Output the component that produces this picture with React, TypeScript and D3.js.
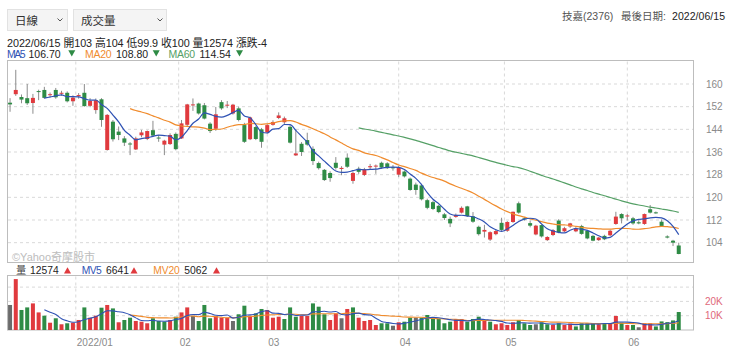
import React from 'react';
import * as d3 from 'd3';

const W = 740;
const H = 352;

// trading days shown (2021/12/15 - 2022/06/15)
const dates = [
  '2021-12-15', '2021-12-16', '2021-12-17', '2021-12-20', '2021-12-21', '2021-12-22', '2021-12-23', '2021-12-24', '2021-12-27', '2021-12-28', '2021-12-29', '2021-12-30',
  '2022-01-03', '2022-01-04', '2022-01-05', '2022-01-06', '2022-01-07', '2022-01-10', '2022-01-11', '2022-01-12', '2022-01-13', '2022-01-14', '2022-01-17', '2022-01-18', '2022-01-19', '2022-01-20', '2022-01-21', '2022-01-24', '2022-01-25', '2022-01-26',
  '2022-02-07', '2022-02-08', '2022-02-09', '2022-02-10', '2022-02-11', '2022-02-14', '2022-02-15', '2022-02-16', '2022-02-17', '2022-02-18', '2022-02-21', '2022-02-22', '2022-02-23', '2022-02-24', '2022-02-25',
  '2022-03-01', '2022-03-02', '2022-03-03', '2022-03-04', '2022-03-07', '2022-03-08', '2022-03-09', '2022-03-10', '2022-03-11', '2022-03-14', '2022-03-15', '2022-03-16', '2022-03-17', '2022-03-18', '2022-03-21', '2022-03-22', '2022-03-23', '2022-03-24', '2022-03-25', '2022-03-28', '2022-03-29', '2022-03-30', '2022-03-31',
  '2022-04-01', '2022-04-06', '2022-04-07', '2022-04-08', '2022-04-11', '2022-04-12', '2022-04-13', '2022-04-14', '2022-04-15', '2022-04-18', '2022-04-19', '2022-04-20', '2022-04-21', '2022-04-22', '2022-04-25', '2022-04-26', '2022-04-27', '2022-04-28', '2022-04-29',
  '2022-05-03', '2022-05-04', '2022-05-05', '2022-05-06', '2022-05-09', '2022-05-10', '2022-05-11', '2022-05-12', '2022-05-13', '2022-05-16', '2022-05-17', '2022-05-18', '2022-05-19', '2022-05-20', '2022-05-23', '2022-05-24', '2022-05-25', '2022-05-26', '2022-05-27', '2022-05-30', '2022-05-31',
  '2022-06-01', '2022-06-02', '2022-06-06', '2022-06-07', '2022-06-08', '2022-06-09', '2022-06-10', '2022-06-13', '2022-06-14', '2022-06-15',
];

const open = [
  153.4, 156.4, 155.4, 155.0, 153.3, 157.5, 157.9, 156.1, 157.9, 156.6,
  156.9, 153.9, 155.7, 156.9, 152.3, 150.8, 154.6, 136.7, 146.7, 143.2,
  140.8, 139.0, 136.9, 141.9, 140.6, 143.7, 141.1, 138.6, 138.8, 142.4,
  140.8, 145.6, 152.5, 153.1, 152.5, 146.0, 144.2, 153.6, 152.4, 149.6,
  151.4, 145.5, 140.5, 144.8, 144.0, 142.9, 145.6, 148.0, 146.5, 144.9,
  134.8, 138.9, 140.2, 137.1, 132.1, 129.7, 128.6, 132.2, 130.0, 134.0,
  125.8, 130.1, 127.9, 130.6, 131.0, 132.2, 132.0, 130.6, 128.0, 129.1,
  126.6, 124.5, 124.2, 119.0, 118.3, 117.0, 114.0, 112.4, 113.1, 114.6,
  116.8, 113.3, 109.6, 107.9, 105.1, 107.0, 111.0, 108.2, 111.3, 117.9,
  112.6, 110.9, 106.9, 110.2, 104.9, 106.7, 111.8, 108.0, 109.7, 108.0,
  109.9, 108.2, 106.4, 104.9, 106.4, 106.6, 110.6, 114.1, 113.4, 112.6,
  111.2, 110.6, 115.8, 114.7, 111.4, 106.2, 104.7, 103.0,
];

const high = [
  155.0, 165.0, 156.3, 160.0, 156.5, 158.0, 159.0, 157.0, 158.6, 157.6,
  157.4, 156.0, 156.8, 160.0, 155.0, 154.9, 155.0, 149.4, 147.3, 145.0,
  141.6, 139.5, 141.4, 143.8, 143.6, 147.0, 142.0, 140.3, 142.6, 142.9,
  147.3, 153.0, 154.9, 153.4, 153.3, 146.5, 151.9, 154.3, 154.0, 153.0,
  152.0, 146.3, 148.5, 145.2, 144.5, 145.8, 147.2, 150.0, 148.5, 145.5,
  144.0, 139.5, 142.8, 138.0, 132.6, 130.0, 129.2, 134.2, 131.0, 135.5,
  129.1, 130.8, 130.4, 131.8, 131.6, 132.6, 132.4, 131.4, 131.0, 129.5,
  127.0, 125.2, 124.8, 119.5, 118.8, 117.4, 114.5, 113.2, 114.3, 116.8,
  117.0, 114.8, 110.0, 110.3, 108.0, 108.8, 112.8, 111.6, 115.0, 118.5,
  113.1, 111.8, 110.3, 110.5, 106.3, 108.8, 112.3, 109.6, 111.0, 109.5,
  110.3, 108.5, 106.8, 106.0, 106.8, 108.6, 114.9, 114.4, 114.1, 113.1,
  111.9, 114.3, 117.3, 115.0, 112.2, 106.6, 105.0, 104.0,
];

const low = [
  150.2, 155.8, 153.2, 152.6, 149.5, 154.3, 154.8, 155.2, 154.8, 155.8,
  153.5, 152.3, 154.8, 152.0, 151.8, 149.5, 144.9, 136.5, 139.7, 140.2,
  138.1, 134.9, 136.7, 141.2, 140.2, 141.3, 139.6, 134.9, 138.5, 136.6,
  140.6, 145.0, 150.5, 149.2, 147.5, 142.7, 143.5, 150.9, 151.5, 149.2,
  146.8, 139.2, 140.2, 140.2, 137.5, 142.5, 145.3, 147.6, 145.8, 139.0,
  134.6, 134.6, 138.2, 131.4, 129.8, 125.8, 125.5, 129.8, 127.8, 130.4,
  124.8, 128.3, 127.5, 129.7, 128.3, 130.0, 130.0, 129.4, 127.2, 127.0,
  122.3, 120.9, 118.9, 115.8, 115.5, 114.4, 112.0, 109.5, 112.8, 114.3,
  113.1, 111.0, 106.5, 105.8, 104.6, 106.6, 108.0, 107.8, 111.0, 114.2,
  111.8, 109.4, 106.6, 105.8, 104.6, 106.3, 107.3, 107.7, 109.2, 107.7,
  106.8, 105.2, 104.5, 104.6, 104.9, 106.3, 110.3, 110.8, 111.8, 110.3,
  110.5, 110.3, 114.3, 114.2, 109.6, 105.5, 102.8, 99.9,
];

const close = [
  152.8, 157.9, 154.5, 153.2, 155.1, 157.2, 155.1, 156.4, 155.3, 156.9,
  153.9, 155.2, 156.1, 152.2, 154.0, 154.3, 147.3, 149.1, 140.5, 142.0,
  139.3, 138.7, 140.8, 142.9, 143.4, 141.8, 140.8, 140.0, 142.0, 137.0,
  146.1, 152.8, 152.8, 149.6, 147.8, 143.4, 149.3, 151.4, 152.7, 152.7,
  147.3, 139.6, 148.2, 140.6, 139.6, 145.5, 146.6, 148.9, 147.9, 139.3,
  135.5, 136.0, 138.6, 132.8, 130.3, 126.1, 126.8, 130.4, 130.4, 130.8,
  128.6, 129.0, 129.9, 131.0, 131.2, 130.5, 130.3, 130.3, 130.5, 127.4,
  122.6, 122.6, 119.3, 116.3, 115.9, 114.8, 112.7, 110.8, 113.8, 116.3,
  113.4, 111.4, 107.0, 108.5, 107.7, 108.1, 108.5, 111.3, 114.9, 114.6,
  112.3, 110.0, 110.0, 106.2, 106.0, 108.4, 107.6, 109.1, 110.8, 109.1,
  107.1, 105.5, 104.7, 105.8, 105.2, 108.2, 113.2, 112.6, 113.6, 110.8,
  110.8, 114.1, 114.6, 114.4, 109.9, 105.8, 104.0, 100.0,
];

// 成交量 (張)
const volume = [
  17500, 35600, 14000, 15800, 18600, 12300, 10000, 5100, 8200, 4000,
  4700, 5100, 7000, 15800, 8600, 10000, 15600, 17500, 15100, 5400,
  7000, 8600, 6300, 5800, 4700, 8200, 6300, 5800, 7000, 9300,
  12300, 15800, 10000, 6300, 17500, 8200, 9800, 8600, 8600, 6300,
  11000, 17000, 10000, 11600, 14700, 14000, 8600, 9300, 7700, 15800,
  9300, 9800, 9800, 18600, 16300, 11000, 7000, 11600, 8200, 14700,
  15800, 8600, 6300, 7000, 3500, 4700, 4700, 3000, 5400, 5800,
  8600, 8600, 8600, 10500, 7700, 7700, 4700, 5800, 7700, 7700,
  5800, 7700, 9300, 6300, 5800, 4000, 4700, 3500, 5400, 7000,
  4700, 3500, 4000, 5400, 4000, 3500, 4700, 3500, 4500, 2500,
  4700, 4700, 4700, 4000, 4700, 4200, 9800, 5200, 3500, 3500,
  1900, 4700, 4700, 2500, 6000, 5500, 6700, 12574,
];

const priceTicks = [104, 112, 120, 128, 136, 144, 152, 160];
const volumeGrid = [10000, 20000, 30000];
const volumeLabels = ['10K', '20K'];

const UP = '#e03a3e';
const DOWN = '#2e8b45';
const FLAT = '#6b6b6b';
const MA5C = '#2f52b4';
const MA20C = '#f08c2e';
const MA60C = '#55a066';
const GRID = '#d9d9d9';
const FONT = "'Liberation Sans', Arial, 'Noto Sans CJK TC', sans-serif";

function movingAvg(values: number[], n: number) {
  return values.map((_, i) => (i < n + 1 ? null : d3.mean(values.slice(i - n + 1, i + 1)) as number));
}

// small filled triangle, pointing down or up
function Tri({ x, y, down, fill }: { x: number; y: number; down: boolean; fill: string }) {
  const d = down
    ? `M${x},${y} L${x + 7},${y} L${x + 3.5},${y + 6.2} Z`
    : `M${x},${y + 6.2} L${x + 7},${y + 6.2} L${x + 3.5},${y} Z`;
  return <path d={d} fill={fill} />;
}

export default function App() {
  const x = d3.scalePoint<string>().domain(dates).range([7.2, 681.6]).padding(0.5);
  const step = x.step();
  const y = d3.scaleLinear().domain([104, 160]).range([242.67, 84]);
  const yv = d3.scaleLinear().domain([0, 20000]).range([330, 301.4]);

  const plot = { left: 7, right: 693, top: 60.5, bottom: 262.5 };
  const vol = { top: 275.5, bottom: 330 };

  const parse = d3.timeParse('%Y-%m-%d');
  const times = dates.map((d) => parse(d) as Date);

  // month grid: position of the 1st calendar day between trading days
  const months: { x: number; label: string }[] = [];
  for (let i = 1; i < dates.length; i++) {
    if (times[i].getMonth() !== times[i - 1].getMonth()) {
      const first = new Date(times[i].getFullYear(), times[i].getMonth(), 1);
      const t = (+first - +times[i - 1]) / (+times[i] - +times[i - 1]);
      const xp = (x(dates[i - 1]) as number) + t * step;
      const label = first.getMonth() === 0 ? d3.timeFormat('%Y/%m')(first) : d3.timeFormat('%m')(first);
      months.push({ x: xp, label });
    }
  }

  const ma5 = movingAvg(close, 5);
  const ma20 = movingAvg(close, 20);
  const ma60 = movingAvg(close, 60);
  const mv5 = movingAvg(volume, 5);
  const mv20 = movingAvg(volume, 20);

  const lineFor = (vals: (number | null)[], sc: d3.ScaleLinear<number, number>) =>
    d3
      .line<number | null>()
      .defined((d) => d != null)
      .x((_, i) => x(dates[i]) as number)
      .y((d) => sc(d as number))
      .curve(d3.curveMonotoneX)(vals) || '';

  const candleColor = (i: number) => (close[i] > open[i] ? UP : close[i] < open[i] ? DOWN : FLAT);
  const volColor = (i: number) =>
    i === 0 || close[i] === close[i - 1] ? FLAT : close[i] > close[i - 1] ? UP : DOWN;

  const bw = 4;

  return (
    <svg
      width={W}
      height={H}
      style={{ position: 'absolute', left: 0, top: 0, background: '#fff', fontFamily: FONT }}
    >
      {/* selectors */}
      <rect x={7.5} y={9.5} width={60} height={21} fill="#f4f4f4" stroke="#e2e2e2" />
      <text x={15} y={24.5} fontSize={11.5} fill="#333">日線</text>
      <path d="M57.5 18.5 l2.5 2.5 l2.5 -2.5" fill="none" stroke="#555" strokeWidth={1} />
      <rect x={73.5} y={9.5} width={93} height={21} fill="#f4f4f4" stroke="#e2e2e2" />
      <text x={81} y={24.5} fontSize={11.5} fill="#333">成交量</text>
      <path d="M157.5 18.5 l2.5 2.5 l2.5 -2.5" fill="none" stroke="#555" strokeWidth={1} />

      {/* top right */}
      <text y={20} fontSize={10.5} fill="#555">
        <tspan x={562}>技嘉(2376)</tspan>
        <tspan x={621}>最後日期:</tspan>
        <tspan x={672} fill="#222" textLength={53}>2022/06/15</tspan>
      </text>

      {/* info lines */}
      <text x={7} y={46.5} fontSize={10.8} fill="#222" textLength={260} lengthAdjust="spacing">
        2022/06/15 開103 高104 低99.9 收100 量12574 漲跌-4
      </text>
      <text y={58} fontSize={10.5}>
        <tspan x={7} fill={MA5C} textLength={18.5}>MA5</tspan>
        <tspan x={28.5} fill="#222">106.70</tspan>
        <tspan x={85} fill={MA20C} textLength={26.5}>MA20</tspan>
        <tspan x={116} fill="#222">108.80</tspan>
        <tspan x={168.5} fill={MA60C} textLength={26.5}>MA60</tspan>
        <tspan x={199.5} fill="#222">114.54</tspan>
      </text>
      <Tri x={68.3} y={50.2} down fill={DOWN} />
      <Tri x={152.7} y={50.2} down fill={DOWN} />
      <Tri x={236} y={50.2} down fill={DOWN} />

      {/* price panel */}
      <rect x={plot.left + 0.5} y={plot.top} width={plot.right - plot.left} height={plot.bottom - plot.top} fill="#fff" stroke="#bdbdbd" />
      {priceTicks.map((t) => (
        <g key={t}>
          <line x1={plot.left + 1} x2={plot.right} y1={y(t)} y2={y(t)} stroke={GRID} strokeDasharray="3,3" />
          <text x={706} y={y(t) + 3.5} fontSize={10} fill="#8a8a8a">{t}</text>
        </g>
      ))}
      {months.map((m) => (
        <line key={'pg' + m.label} x1={m.x} x2={m.x} y1={plot.top + 1} y2={plot.bottom} stroke={GRID} strokeDasharray="3,3" />
      ))}
      <text x={12} y={261} fontSize={11} fill="#bdbdbd">©Yahoo奇摩股市</text>

      {dates.map((d, i) => {
        const cx = x(d) as number;
        const top = y(Math.max(open[i], close[i]));
        const bot = y(Math.min(open[i], close[i]));
        return (
          <g key={d}>
            <line x1={cx} x2={cx} y1={y(high[i])} y2={y(low[i])} stroke="#8c8c8c" strokeWidth={1} />
            <rect x={cx - bw / 2} y={top} width={bw} height={Math.max(1, bot - top)} fill={candleColor(i)} />
          </g>
        );
      })}
      <path d={lineFor(ma60, y)} fill="none" stroke={MA60C} strokeWidth={1.2} />
      <path d={lineFor(ma20, y)} fill="none" stroke={MA20C} strokeWidth={1.2} />
      <path d={lineFor(ma5, y)} fill="none" stroke={MA5C} strokeWidth={1.2} />

      {/* volume header */}
      <text y={274} fontSize={10.3}>
        <tspan x={16} fill="#444">量</tspan>
        <tspan x={30} fill="#222">12574</tspan>
        <tspan x={81.7} fill={MA5C} textLength={20}>MV5</tspan>
        <tspan x={106} fill="#222">6641</tspan>
        <tspan x={153.3} fill={MA20C} textLength={26.5}>MV20</tspan>
        <tspan x={184.3} fill="#222">5062</tspan>
      </text>
      <Tri x={64} y={267.3} down={false} fill={UP} />
      <Tri x={130.5} y={267.3} down={false} fill={UP} />
      <Tri x={213} y={267.3} down={false} fill={UP} />

      {/* volume panel */}
      <rect x={plot.left + 0.5} y={vol.top} width={plot.right - plot.left} height={vol.bottom - vol.top} fill="#fff" stroke="#bdbdbd" />
      {volumeGrid.map((t) => (
        <line key={t} x1={plot.left + 1} x2={plot.right} y1={yv(t)} y2={yv(t)} stroke={GRID} strokeDasharray="3,3" />
      ))}
      {volumeLabels.map((l, i) => (
        <text key={l} x={705} y={yv(volumeGrid[i]) + 3.5} fontSize={10} fill="#e0687a">{l}</text>
      ))}
      {months.map((m) => (
        <g key={'vg' + m.label}>
          <line x1={m.x} x2={m.x} y1={vol.top + 1} y2={vol.bottom} stroke={GRID} strokeDasharray="3,3" />
          <text x={m.x + 1} y={346} fontSize={10} fill="#8a8a8a">{m.label}</text>
        </g>
      ))}
      {dates.map((d, i) => {
        const cx = x(d) as number;
        return (
          <rect key={'v' + d} x={cx - bw / 2} y={yv(volume[i])} width={bw} height={vol.bottom - yv(volume[i])} fill={volColor(i)} />
        );
      })}
      <path d={lineFor(mv20, yv)} fill="none" stroke={MA20C} strokeWidth={1.1} />
      <path d={lineFor(mv5, yv)} fill="none" stroke={MA5C} strokeWidth={1.1} />
    </svg>
  );
}
